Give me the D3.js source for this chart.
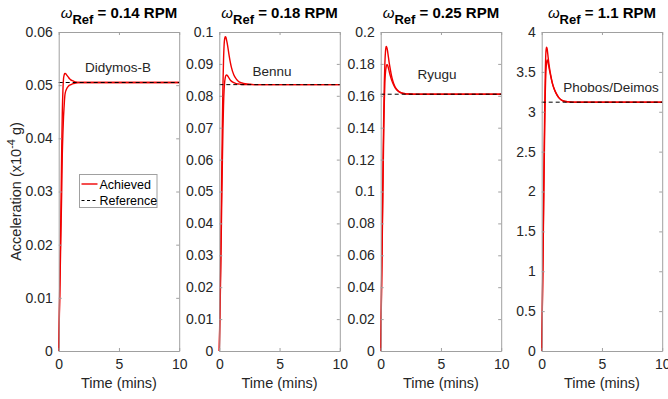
<!DOCTYPE html>
<html><head><meta charset="utf-8">
<script src="https://cdn.jsdelivr.net/npm/d3@7"></script>
<style>body{margin:0;background:#fff}svg{display:block}</style>
</head><body>
<svg id="c" width="668" height="399"></svg>
<script>
// ---- data ----
const bodies = ["Didymos-B", "Bennu", "Ryugu", "Phobos/Deimos"];
const omegaLabels = ["0.14", "0.18", "0.25", "1.1"];
const referenceValues = [0.0505, 0.0835, 0.161, 3.12];
const yMaxes = [0.06, 0.1, 0.2, 4];
const yTicks1 = [0, 0.01, 0.02, 0.03, 0.04, 0.05, 0.06];
const yTicks2 = [0, 0.01, 0.02, 0.03, 0.04, 0.05, 0.06, 0.07, 0.08, 0.09, 0.1];
const yTicks3 = [0, 0.02, 0.04, 0.06, 0.08, 0.1, 0.12, 0.14, 0.16, 0.18, 0.2];
const yTicks4 = [0, 0.5, 1, 1.5, 2, 2.5, 3, 3.5, 4];
const xTicks = [0, 5, 10];
const timeMins = [0,0.05,0.1,0.15,0.2,0.25,0.3,0.35,0.4,0.45,0.5,0.55,0.6,0.7,0.8,0.9,1.0,1.2,1.4,1.6,1.8,2.0,2.3,2.6,3,4,5,6,7,8,9,10];
const didymosA = [0,0.007,0.014,0.021,0.029,0.038,0.045,0.049,0.0512,0.0519,0.0522,0.0522,0.0521,0.0518,0.0515,0.0512,0.0510,0.0508,0.0506,0.0505,0.0505,0.0505,0.0505,0.0505,0.0505,0.0505,0.0505,0.0505,0.0505,0.0505,0.0505,0.0505];
const didymosB = [0,0.006,0.012,0.018,0.024,0.030,0.037,0.041,0.044,0.046,0.0478,0.0486,0.0490,0.0495,0.0498,0.0500,0.0501,0.0503,0.0504,0.0505,0.0505,0.0505,0.0505,0.0505,0.0505,0.0505,0.0505,0.0505,0.0505,0.0505,0.0505,0.0505];
const bennuA = [0,0.012,0.025,0.040,0.055,0.070,0.083,0.091,0.0960,0.0980,0.0985,0.0983,0.0975,0.0955,0.0930,0.0908,0.0890,0.0866,0.0853,0.0845,0.0841,0.0839,0.0837,0.0836,0.0835,0.0835,0.0835,0.0835,0.0835,0.0835,0.0835,0.0835];
const bennuB = [0,0.010,0.021,0.033,0.046,0.058,0.069,0.077,0.082,0.0845,0.0858,0.0864,0.0865,0.0862,0.0856,0.0850,0.0846,0.0841,0.0838,0.0837,0.0836,0.0835,0.0835,0.0835,0.0835,0.0835,0.0835,0.0835,0.0835,0.0835,0.0835,0.0835];
const ryuguA = [0,0.030,0.060,0.090,0.120,0.148,0.168,0.181,0.188,0.191,0.1905,0.189,0.1865,0.181,0.1765,0.1725,0.1695,0.1655,0.1635,0.1623,0.1617,0.1614,0.1612,0.1611,0.161,0.161,0.161,0.161,0.161,0.161,0.161,0.161];
const ryuguB = [0,0.027,0.054,0.082,0.110,0.136,0.156,0.169,0.175,0.178,0.1795,0.1795,0.1785,0.1755,0.1725,0.1700,0.1680,0.1650,0.1632,0.1621,0.1616,0.1613,0.1611,0.161,0.161,0.161,0.161,0.161,0.161,0.161,0.161,0.161];
const phobosA = [0,0.55,1.15,1.8,2.45,3.05,3.5,3.75,3.81,3.79,3.73,3.66,3.6,3.5,3.42,3.35,3.30,3.23,3.18,3.15,3.135,3.128,3.123,3.121,3.12,3.12,3.12,3.12,3.12,3.12,3.12,3.12];
const phobosB = [0,0.5,1.05,1.65,2.25,2.8,3.25,3.5,3.61,3.65,3.64,3.6,3.56,3.48,3.41,3.35,3.30,3.23,3.18,3.15,3.135,3.128,3.123,3.121,3.12,3.12,3.12,3.12,3.12,3.12,3.12,3.12];
const legendLabels = ["Achieved", "Reference"];

// ---- layout ----
const yTicksAll = [yTicks1, yTicks2, yTicks3, yTicks4];
const seriesAll = [[didymosA, didymosB], [bennuA, bennuB], [ryuguA, ryuguB], [phobosA, phobosB]];
const labelPos = [[118, 72], [272, 76], [437, 79], [611, 92]];
const panelLeft = [58.7, 219.3, 380.7, 541.7];
const panelW = 120.5, plotTop = 32, plotBottom = 351;
const font = "'Liberation Sans', Arial, sans-serif";
const txt = "#262626", axisCol = "#a0a0a0";

const svg = d3.select("#c");

panelLeft.forEach((left, i) => {
  const x = d3.scaleLinear().domain([0, 10]).range([left, left + panelW]);
  const y = d3.scaleLinear().domain([0, yMaxes[i]]).range([plotBottom, plotTop]);
  const g = svg.append("g");
  const fmt = d3.format("~g");

  // curves
  const line = d3.line().x((d, k) => x(timeMins[k])).y(d => y(d)).curve(d3.curveMonotoneX);
  seriesAll[i].forEach(s => {
    g.append("path").attr("d", line(s)).attr("fill", "none")
      .attr("stroke", "#f00000").attr("stroke-width", 1.4);
  });
  // reference
  g.append("line").attr("x1", x(0)).attr("x2", x(10))
    .attr("y1", y(referenceValues[i])).attr("y2", y(referenceValues[i]))
    .attr("stroke", "#000").attr("stroke-width", 1).attr("stroke-dasharray", "4,3");

  // axes
  const axL = d3.axisLeft(y).tickValues(yTicksAll[i]).tickFormat(fmt).tickSizeInner(-3).tickSizeOuter(0).tickPadding(6);
  const axR = d3.axisRight(y).tickValues(yTicksAll[i]).tickFormat("").tickSizeInner(-3).tickSizeOuter(0);
  const axB = d3.axisBottom(x).tickValues(xTicks).tickFormat(fmt).tickSizeInner(-3).tickSizeOuter(0).tickPadding(8);
  const axT = d3.axisTop(x).tickValues(xTicks).tickFormat("").tickSizeInner(-3).tickSizeOuter(0);
  const gl = g.append("g").attr("transform", `translate(${left},0)`).call(axL);
  const gr = g.append("g").attr("transform", `translate(${left + panelW},0)`).call(axR);
  const gb = g.append("g").attr("transform", `translate(0,${plotBottom})`).call(axB);
  const gt = g.append("g").attr("transform", `translate(0,${plotTop})`).call(axT);
  [gl, gr, gb, gt].forEach(a => {
    a.selectAll("path.domain").attr("stroke", axisCol).attr("stroke-width", 1);
    a.selectAll(".tick line").attr("stroke", axisCol);
    a.selectAll("text").attr("fill", txt).style("font-family", font).style("font-size", "14px");
  });

  // body label
  g.append("text").attr("x", labelPos[i][0]).attr("y", labelPos[i][1])
    .attr("text-anchor", "middle").attr("fill", txt)
    .style("font-family", font).style("font-size", "13.5px").text(bodies[i]);

  // title
  const t = g.append("text").attr("x", left + panelW / 2).attr("y", 18)
    .attr("text-anchor", "middle").attr("fill", "#000")
    .style("font-family", font).style("font-size", "15px");
  t.append("tspan").style("font-style", "italic").text("ω");
  t.append("tspan").attr("dy", 6).style("font-weight", "bold").style("font-size", "13px").text("Ref");
  t.append("tspan").attr("dy", -6).style("font-weight", "bold").text(" = " + omegaLabels[i] + " RPM");

  // x label
  g.append("text").attr("x", left + panelW / 2).attr("y", 388)
    .attr("text-anchor", "middle").attr("fill", txt)
    .style("font-family", font).style("font-size", "14.5px").text("Time (mins)");
});

// y label
const yl = svg.append("text").attr("transform", "translate(21,191.5) rotate(-90)")
  .attr("text-anchor", "middle").attr("fill", txt)
  .style("font-family", font).style("font-size", "14.5px");
yl.append("tspan").text("Acceleration (x10");
yl.append("tspan").attr("dy", -6).style("font-size", "11px").text("-4");
yl.append("tspan").attr("dy", 6).text(" g)");

// legend
const lg = svg.append("g").attr("transform", "translate(79.5,174.5)");
lg.append("rect").attr("width", 77.5).attr("height", 33).attr("fill", "#fff")
  .attr("stroke", "#a0a0a0").attr("stroke-width", 1);
const legStyles = [{c: "#f00000", d: null, w: 1.4}, {c: "#000", d: "3,2.5", w: 1}];
legendLabels.forEach((lab, k) => {
  const yy = 9.5 + k * 16.5;
  lg.append("line").attr("x1", 2).attr("x2", 18).attr("y1", yy).attr("y2", yy)
    .attr("stroke", legStyles[k].c).attr("stroke-width", legStyles[k].w)
    .attr("stroke-dasharray", legStyles[k].d);
  lg.append("text").attr("x", 20).attr("y", yy + 4.5).attr("fill", "#000")
    .style("font-family", font).style("font-size", "12.5px").text(lab);
});
</script>
</body></html>
